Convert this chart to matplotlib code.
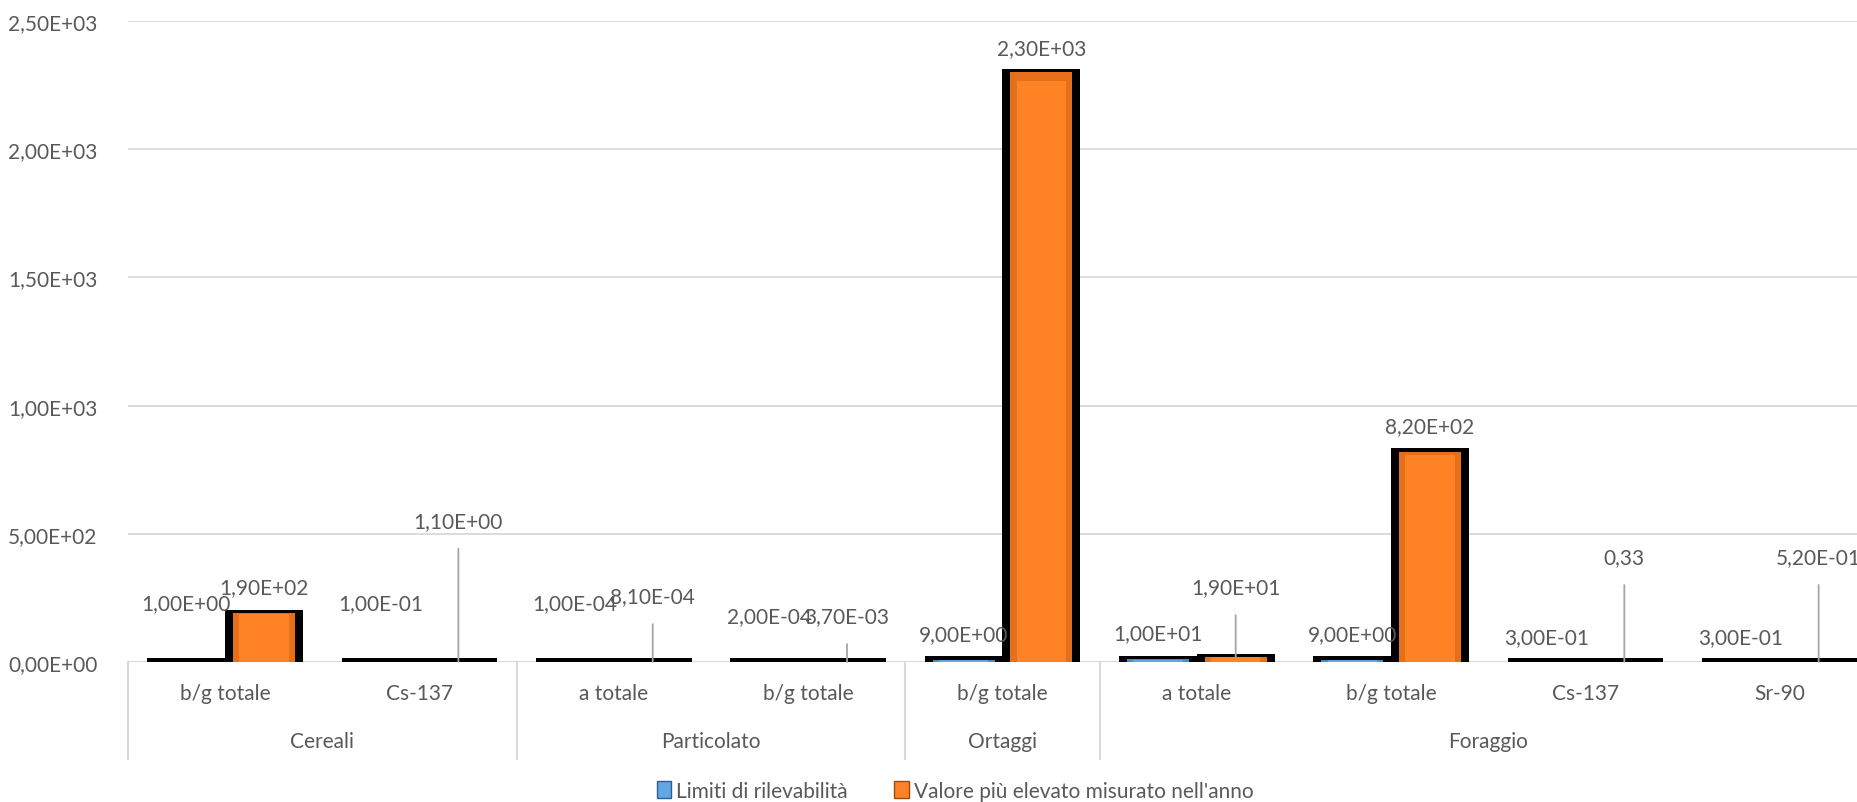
"""
Limiti di rilevabilità vs valore più elevato misurato nell'anno (bar chart a due livelli)
"""
import matplotlib
matplotlib.use("Agg")
import matplotlib.pyplot as plt
from matplotlib.patches import Patch
import numpy as np

# ---- dati ----
groups = ["Cereali", "Particolato", "Ortaggi", "Foraggio"]
group_sizes = [2, 2, 1, 4]
params = ["b/g totale", "Cs-137", "a totale", "b/g totale", "b/g totale",
          "a totale", "b/g totale", "Cs-137", "Sr-90"]
limiti = [1.0, 0.1, 1e-4, 2e-4, 9.0, 10.0, 9.0, 0.3, 0.3]
valore_max = [190.0, 1.1, 8.1e-4, 3.7e-3, 2300.0, 19.0, 820.0, 0.33, 0.52]
limiti_lbl = ["1,00E+00", "1,00E-01", "1,00E-04", "2,00E-04", "9,00E+00",
              "1,00E+01", "9,00E+00", "3,00E-01", "3,00E-01"]
valore_lbl = ["1,90E+02", "1,10E+00", "8,10E-04", "3,70E-03", "2,30E+03",
              "1,90E+01", "8,20E+02", "0,33", "5,20E-01"]
yticks = [0, 500, 1000, 1500, 2000, 2500]
ytick_lbl = ["0,00E+00", "5,00E+02", "1,00E+03", "1,50E+03", "2,00E+03", "2,50E+03"]
series_names = ["Limiti di rilevabilità", "Valore più elevato misurato nell'anno"]

# layout: distanza (pixel) delle etichette sopra la barra
dy_blue = [59, 59, 59, 46, 26, 26, 26, 25, 25]
dy_orange = [26, 141, 66, 46, 24, 70, 26, 105, 105]

TXT = "#595959"
GRID = "#d9d9d9"
BLUE, BLUE_HI = "#4a8bc9", "#62a6e2"
ORANGE, ORANGE_HI = "#e4701c", "#ff8224"
FONT = ["Lato", "DejaVu Sans"]
FS = 15

plt.rcParams["font.family"] = FONT

fig = plt.figure(figsize=(18.58, 8.03), dpi=100)
ax = fig.add_axes([0.0689, 0.1743, 0.9413, 0.7983])

x = np.arange(len(params))
slot = 0.4          # larghezza di ogni barra con il bordo nero
border = 0.041      # bordo laterale nero (unità categoria)
top_pad = 14        # bordo nero sopra la barra (unità dati)

# contorno nero (stile Excel)
ax.bar(x - slot / 2, np.array(limiti) + top_pad, slot, color="black", linewidth=0, zorder=3)
ax.bar(x + slot / 2, np.array(valore_max) + top_pad, slot, color="black", linewidth=0, zorder=3)
# riempimento colorato
wi = slot - 2 * border
ax.bar(x - slot / 2, limiti, wi, color=BLUE, linewidth=0, zorder=4)
ax.bar(x + slot / 2, valore_max, wi, color=ORANGE, linewidth=0, zorder=4)
# riflesso interno
ax.bar(x - slot / 2, np.array(limiti) * 0.985, wi * 0.8, color=BLUE_HI, linewidth=0, zorder=5)
ax.bar(x + slot / 2, np.array(valore_max) * 0.985, wi * 0.8, color=ORANGE_HI, linewidth=0, zorder=5)

ax.set_xlim(-0.5, len(params) - 0.5)
ax.set_ylim(0, 2500)
ax.set_yticks(yticks)
ax.set_yticklabels(ytick_lbl, fontsize=FS, color=TXT)
ax.tick_params(axis="y", length=0, pad=22)
ax.tick_params(axis="x", length=0, labelbottom=False)
ax.grid(axis="y", color=GRID, linewidth=1.3, zorder=0)
for s in ax.spines.values():
    s.set_visible(False)
ax.axhline(0, color=GRID, linewidth=1.5, zorder=2)

# etichette dati
for i in range(len(params)):
    ax.annotate(limiti_lbl[i], (x[i] - slot / 2, limiti[i]), xytext=(0, dy_blue[i]),
                textcoords="offset pixels", ha="center", va="center",
                fontsize=FS, color=TXT, zorder=6)
    ap = None
    if dy_orange[i] > 40:
        ap = dict(arrowstyle="-", color="#a6a6a6", lw=1.3, shrinkA=11, shrinkB=0)
    ax.annotate(valore_lbl[i], (x[i] + slot / 2, valore_max[i]), xytext=(0, dy_orange[i]),
                textcoords="offset pixels", ha="center", va="center",
                fontsize=FS, color=TXT, arrowprops=ap, zorder=6)

# asse categorie a due livelli
trans = ax.get_xaxis_transform()
for i, p in enumerate(params):
    ax.text(x[i], -0.048, p, transform=trans, ha="center", va="center",
            fontsize=FS, color=TXT)
start = 0
bounds = [-0.5]
for g, n in zip(groups, group_sizes):
    ax.text(start + (n - 1) / 2, -0.123, g, transform=trans, ha="center", va="center",
            fontsize=FS, color=TXT)
    start += n
    bounds.append(start - 0.5)
for b in bounds:
    ax.plot([b, b], [0, -0.152], transform=trans, color=GRID, linewidth=1.5, clip_on=False)

handles = [Patch(facecolor=BLUE_HI, edgecolor="#2f5f8f", label=series_names[0]),
           Patch(facecolor=ORANGE_HI, edgecolor="#9a4a10", label=series_names[1])]
fig.legend(handles=handles, loc="center", bbox_to_anchor=(0.514, 0.0137), ncol=2,
           frameon=False, fontsize=FS, handlelength=0.7, handleheight=0.9,
           handletextpad=0.25, columnspacing=2.2, labelcolor=TXT)

fig.savefig("out.png", dpi=100)
